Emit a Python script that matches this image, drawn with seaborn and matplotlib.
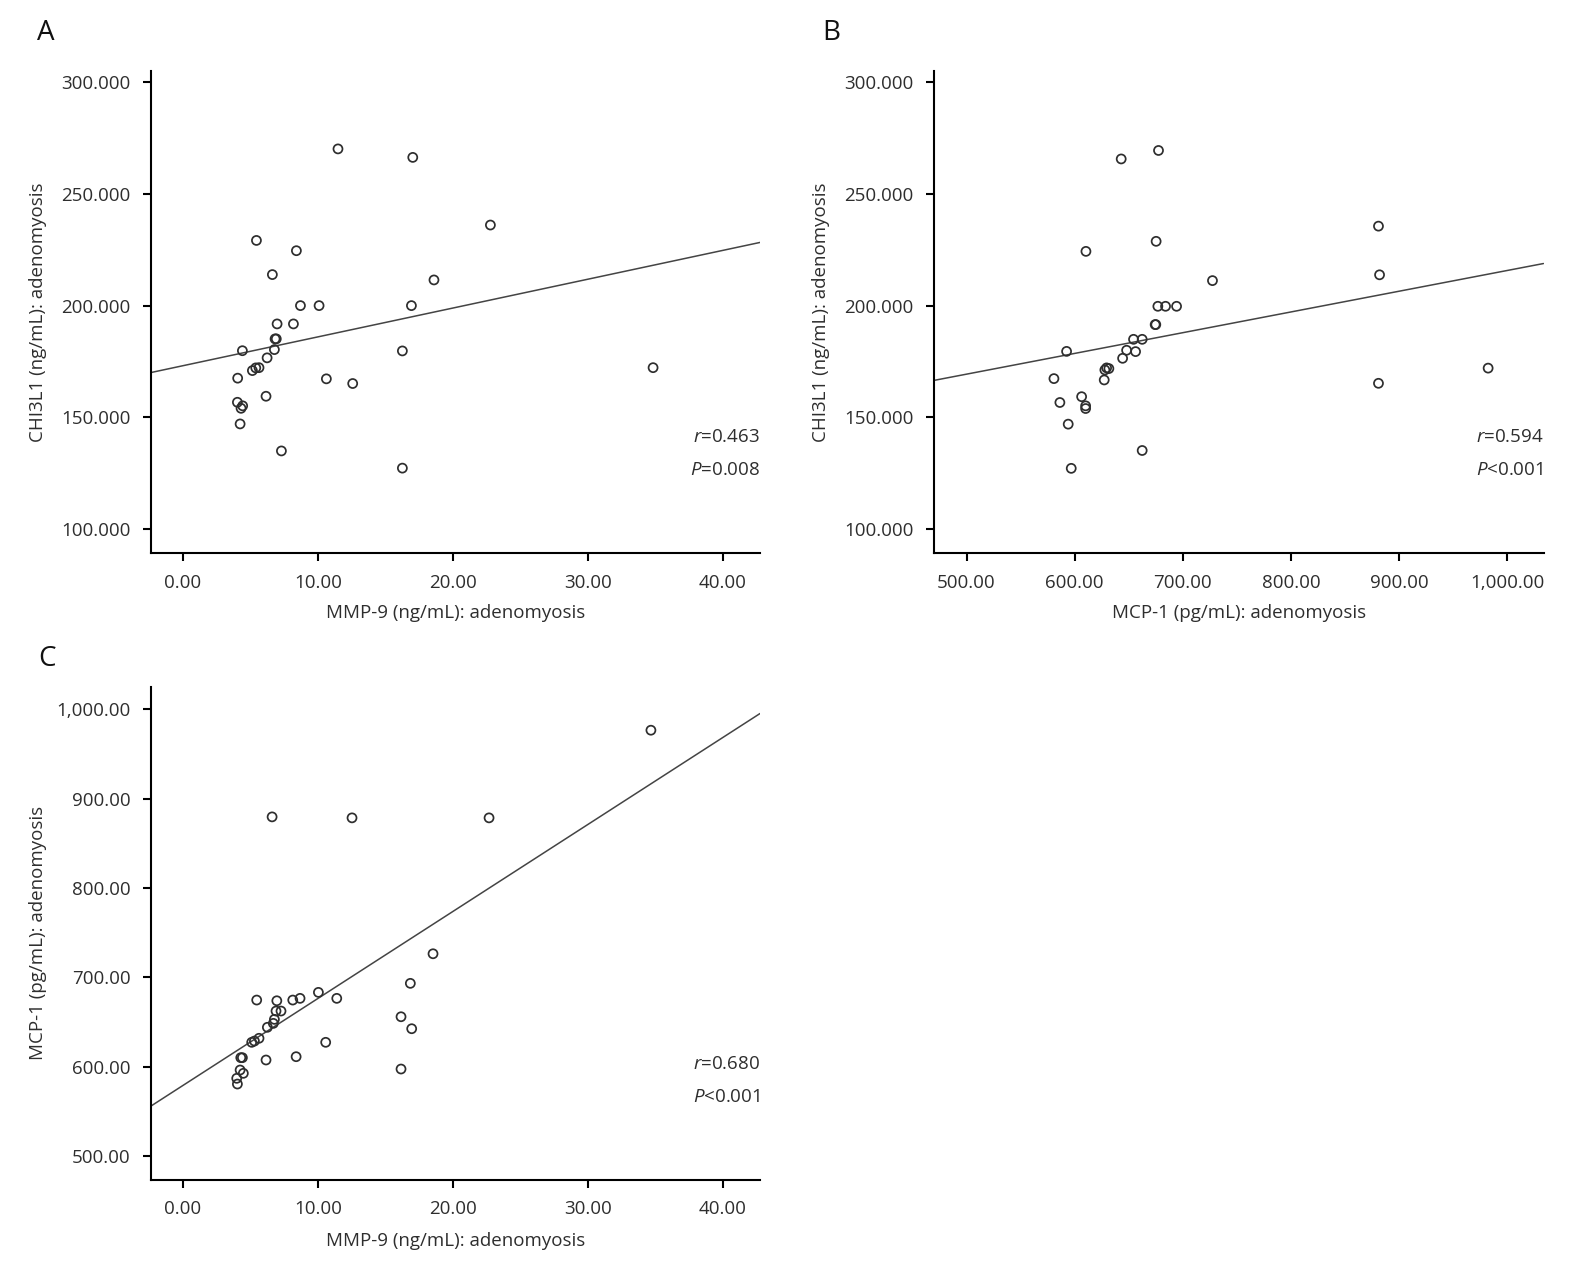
import numpy as np
import pandas as pd
import matplotlib
matplotlib.use("Agg")
import matplotlib.pyplot as plt
from matplotlib.ticker import FuncFormatter
import seaborn as sns

# Panel A: MMP-9 vs CHI3L1
mmp9_a = [11.49, 17.03, 5.45, 8.41, 6.63, 18.60, 8.71, 10.09, 16.93, 6.98, 8.19,
          6.83, 6.92, 4.41, 6.78, 16.26, 6.24, 5.15, 5.40, 5.64, 4.06, 10.63,
          12.58, 6.16, 4.04, 4.31, 4.43, 4.24, 7.30, 16.26, 22.78, 34.83]
chi3l1_a = [270.2, 266.4, 229.2, 224.6, 213.9, 211.5, 200.0, 200.0, 200.0, 191.8, 191.8,
            185.1, 185.1, 179.8, 180.3, 179.7, 176.6, 170.9, 172.1, 172.2, 167.5, 167.2,
            165.1, 159.4, 156.7, 154.0, 155.1, 147.0, 134.9, 127.2, 236.1, 172.2]

# Panel B: MCP-1 vs CHI3L1
mcp1_b = [677.5, 643.0, 675.3, 610.4, 727.4, 676.9, 684.0, 694.2, 674.4, 675.0, 654.4,
          662.4, 592.5, 648.0, 656.3, 644.3, 629.5, 631.6, 627.9, 627.3, 580.8, 606.4,
          586.3, 610.1, 610.1, 594.0, 662.4, 596.8, 880.9, 881.9, 880.9, 982.3]
chi3l1_b = [269.5, 265.7, 228.8, 224.3, 211.2, 199.7, 199.7, 199.7, 191.5, 191.5, 184.9,
            184.9, 179.5, 180.0, 179.4, 176.4, 172.1, 171.8, 171.2, 166.7, 167.3, 159.2,
            156.6, 155.1, 153.9, 146.9, 135.1, 127.1, 235.6, 213.8, 165.2, 172.0]

# Panel C: MMP-9 vs MCP-1
mmp9_c = [5.47, 6.96, 8.14, 8.68, 10.04, 11.40, 6.90, 7.27, 6.78, 6.70, 6.26,
          5.10, 5.30, 5.64, 10.58, 4.29, 4.41, 6.16, 8.39, 4.24, 4.48, 3.99,
          4.04, 6.61, 12.53, 22.68, 34.67, 18.53, 16.85, 16.16, 16.95, 16.16]
mcp1_c = [674.6, 673.8, 674.6, 676.5, 683.2, 676.5, 662.3, 662.3, 653.0, 648.5, 644.1,
          627.3, 628.7, 631.8, 627.3, 610.1, 610.1, 607.5, 611.2, 596.3, 592.6, 587.0,
          580.6, 879.6, 878.5, 878.5, 976.6, 726.4, 693.3, 655.9, 642.5, 597.4]

sns.set_style("ticks")
plt.rcParams['font.family'] = ['Open Sans', 'DejaVu Sans']
plt.rcParams['mathtext.fontset'] = 'custom'
plt.rcParams['mathtext.rm'] = 'Open Sans'
plt.rcParams['mathtext.it'] = 'Open Sans:italic'

TXT = '#2e2e2e'
FS = 13.5

W, H = 1592, 1262
fig = plt.figure(figsize=(W / 100, H / 100), dpi=100)


def box(l, t, r, b):
    return [l / W, 1 - b / H, (r - l) / W, (b - t) / H]


def panel(rect, x, y, xlim, ylim, xticks, yticks, xfmt, yfmt, xlabel, ylabel,
          rtxt, ptxt, ry, py):
    ax = fig.add_axes(rect)
    ax.set_xlim(*xlim)
    ax.set_ylim(*ylim)
    df = pd.DataFrame({'x': x, 'y': y})
    # fit line across the full axis range
    sns.regplot(data=df, x='x', y='y', ax=ax, scatter=False, ci=None, truncate=False,
                line_kws={'color': '#444444', 'linewidth': 1.1})
    sns.scatterplot(data=df, x='x', y='y', ax=ax, s=42, marker='o',
                    facecolor='none', edgecolor='#2e2e2e', linewidth=1.25, zorder=3)
    ax.set_xlim(*xlim)
    ax.set_ylim(*ylim)
    ax.set_xticks(xticks)
    ax.set_yticks(yticks)
    ax.xaxis.set_major_formatter(FuncFormatter(lambda v, p: format(v, xfmt)))
    ax.yaxis.set_major_formatter(FuncFormatter(lambda v, p: format(v, yfmt)))
    sns.despine(ax=ax)
    for s in ['left', 'bottom']:
        ax.spines[s].set_linewidth(1.5)
        ax.spines[s].set_color('black')
    ax.tick_params(length=6, width=1.5, color='black', pad=8.5,
                   labelsize=FS, labelcolor=TXT)
    ax.set_xlabel(xlabel, fontsize=FS, color=TXT)
    ax.set_ylabel(ylabel, fontsize=FS, color=TXT)
    ax.xaxis.set_label_coords(0.5, -0.105)
    ax.yaxis.set_label_coords(-0.17, 0.5)
    ax.text(1.0, ry, rtxt, transform=ax.transAxes, ha='right', va='center',
            fontsize=FS, color=TXT)
    ax.text(1.0, py, ptxt, transform=ax.transAxes, ha='right', va='center',
            fontsize=FS, color=TXT)
    return ax


panel(box(151, 71, 760, 553.4), mmp9_a, chi3l1_a, (-2.36, 42.75), (89.0, 305.1),
      [0, 10, 20, 30, 40], [100, 150, 200, 250, 300], ',.2f', ',.3f',
      'MMP-9 (ng/mL): adenomyosis', 'CHI3L1 (ng/mL): adenomyosis',
      r'$\mathit{r}$=0.463', r'$\mathit{P}$=0.008', 0.242, 0.173)

panel(box(934, 71, 1543.5, 553.4), mcp1_b, chi3l1_b, (469.9, 1033.5), (89.0, 305.1),
      [500, 600, 700, 800, 900, 1000], [100, 150, 200, 250, 300], ',.2f', ',.3f',
      'MCP-1 (pg/mL): adenomyosis', 'CHI3L1 (ng/mL): adenomyosis',
      r'$\mathit{r}$=0.594', r'$\mathit{P}$<0.001', 0.242, 0.173)

panel(box(151, 686.7, 760, 1180), mmp9_c, mcp1_c, (-2.36, 42.75), (473.2, 1025.3),
      [0, 10, 20, 30, 40], [500, 600, 700, 800, 900, 1000], ',.2f', ',.2f',
      'MMP-9 (ng/mL): adenomyosis', 'MCP-1 (pg/mL): adenomyosis',
      r'$\mathit{r}$=0.680', r'$\mathit{P}$<0.001', 0.235, 0.169)

for lab, px, py in [('A', 46, 33), ('B', 831, 33), ('C', 47, 659)]:
    fig.text(px / W, 1 - py / H, lab, fontsize=20, color='#111111', ha='center', va='center')

fig.savefig('out.png', dpi=100)
